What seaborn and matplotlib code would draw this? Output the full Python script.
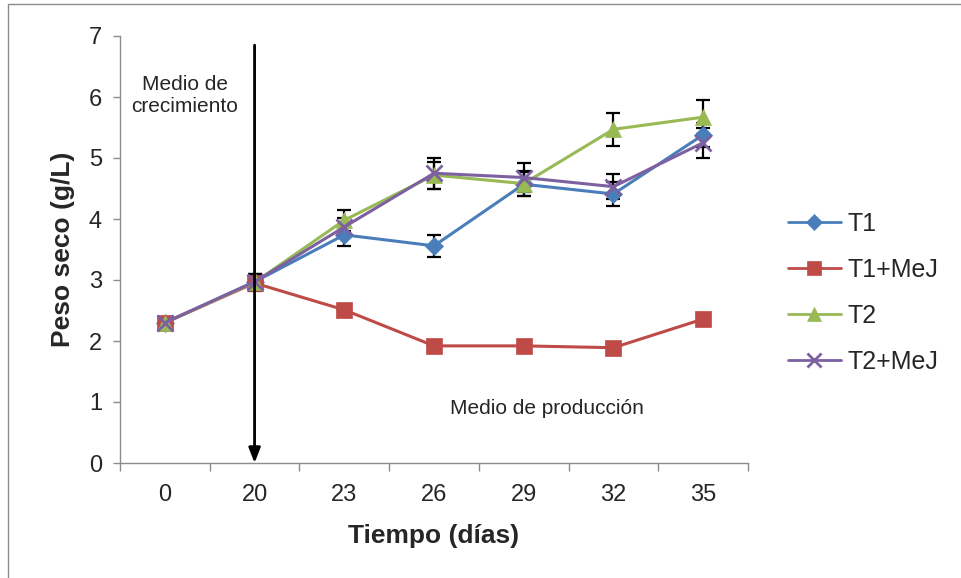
import matplotlib
matplotlib.use("Agg")
import matplotlib.pyplot as plt
from matplotlib.lines import Line2D
from matplotlib.patches import Rectangle
import numpy as np
import pandas as pd
import seaborn as sns

# Sampling days (categorical axis)
dias = ["0", "20", "23", "26", "29", "32", "35"]

# Dry weight (g/L) per treatment
t1 = [2.30, 2.97, 3.74, 3.56, 4.57, 4.41, 5.38]
t1_mej = [2.30, 2.95, 2.51, 1.92, 1.92, 1.89, 2.36]
t2 = [2.30, 2.96, 3.98, 4.72, 4.58, 5.47, 5.67]
t2_mej = [2.30, 2.97, 3.87, 4.75, 4.68, 4.53, 5.25]

# Standard deviations
t1_err = [0.04, 0.13, 0.18, 0.18, 0.20, 0.20, 0.20]
t1_mej_err = [0.04, 0.13, 0.05, 0.04, 0.04, 0.04, 0.05]
t2_err = [0.04, 0.13, 0.17, 0.22, 0.20, 0.27, 0.28]
t2_mej_err = [0.04, 0.13, 0.15, 0.25, 0.23, 0.20, 0.25]

tratamientos = ["T1", "T1+MeJ", "T2", "T2+MeJ"]
colores = ["#4A7EBB", "#BE4B48", "#98B954", "#7D60A0"]
marcadores = ["D", "s", "^", "x"]
tam_marcador = [9, 11, 11, 11]

series = [t1, t1_mej, t2, t2_mej]
errores = [t1_err, t1_mej_err, t2_err, t2_mej_err]

df = pd.DataFrame({
    "Tiempo": dias * len(tratamientos),
    "Peso": np.concatenate(series),
    "Tratamiento": np.repeat(tratamientos, len(dias)),
})

sns.set_style("white")
plt.rcParams["font.family"] = ["Liberation Sans", "DejaVu Sans"]

fig = plt.figure(figsize=(9.61, 5.78), dpi=100)
ax = fig.add_axes([120 / 961, 1 - 463 / 578, (748 - 120) / 961, (463 - 36) / 578])

# Outer frame of the figure
fig.patches.append(Rectangle((8 / 961, -0.1), 1.1, 1.1 - 4 / 578,
                             transform=fig.transFigure, fill=False,
                             edgecolor="#8C8C8C", linewidth=1.0))

pos = np.arange(len(dias))
for nombre, y, err in zip(tratamientos, series, errores):
    ax.errorbar(pos, y, yerr=err, fmt="none", ecolor="black",
                elinewidth=1.6, capsize=5, capthick=1.6, zorder=2.5)

for i, nombre in enumerate(tratamientos):
    sub = df[df["Tratamiento"] == nombre]
    sns.lineplot(data=sub, x="Tiempo", y="Peso", ax=ax, color=colores[i],
                 marker=marcadores[i], markersize=tam_marcador[i],
                 markeredgecolor=colores[i] if marcadores[i] != "x" else None,
                 markeredgewidth=2.0 if marcadores[i] == "x" else 0.5,
                 linewidth=2.2, sort=False, zorder=3 + i * 0.1)

# Arrow marking the switch to production medium at day 20
x_flecha = dias.index("20")
ax.annotate("", xy=(x_flecha, 0.0), xytext=(x_flecha, 6.85),
            arrowprops=dict(arrowstyle="-|>,head_length=0.9,head_width=0.35",
                            color="black", lw=2.0, shrinkA=0, shrinkB=0),
            zorder=6)

ax.text(0.22, 6.02, "Medio de\ncrecimiento", ha="center", va="center",
        fontsize=15, linespacing=1.2)
ax.text(4.26, 0.9, "Medio de producción", ha="center", va="center",
        fontsize=15)

ax.set_xlim(-0.5, len(dias) - 0.5)
ax.set_ylim(0, 7)
ax.set_yticks(range(0, 8))
ax.set_xticks(pos)
ax.set_xticklabels(dias)
ax.set_xticks(np.arange(-0.5, len(dias), 1.0), minor=True)

for s in ["top", "right"]:
    ax.spines[s].set_visible(False)
for s in ["left", "bottom"]:
    ax.spines[s].set_color("#8C8C8C")
    ax.spines[s].set_linewidth(1.0)

ax.tick_params(axis="y", which="major", direction="out", length=5, width=1,
               color="#8C8C8C", labelsize=17, pad=8, left=True)
ax.tick_params(axis="x", which="major", length=0, labelsize=17, pad=15)
ax.tick_params(axis="x", which="minor", direction="out", length=6, width=1,
               color="#8C8C8C", bottom=True)

ax.set_xlabel("Tiempo (días)", fontsize=19, fontweight="bold", labelpad=13)
ax.set_ylabel("Peso seco (g/L)", fontsize=19, fontweight="bold", labelpad=10)

handles = []
for i, nombre in enumerate(tratamientos):
    handles.append(Line2D([0], [0], color=colores[i], marker=marcadores[i],
                          markersize=tam_marcador[i] * 0.95, linewidth=2.0,
                          markeredgewidth=2.0 if marcadores[i] == "x" else 0.5,
                          label=nombre))
ax.legend(handles=handles, loc="center left", bbox_to_anchor=(788 / 961, 0.493),
          bbox_transform=fig.transFigure, frameon=False, fontsize=18,
          handlelength=2.1, handletextpad=0.3, labelspacing=0.88,
          borderaxespad=0, borderpad=0)

fig.savefig("out.png", dpi=100)
